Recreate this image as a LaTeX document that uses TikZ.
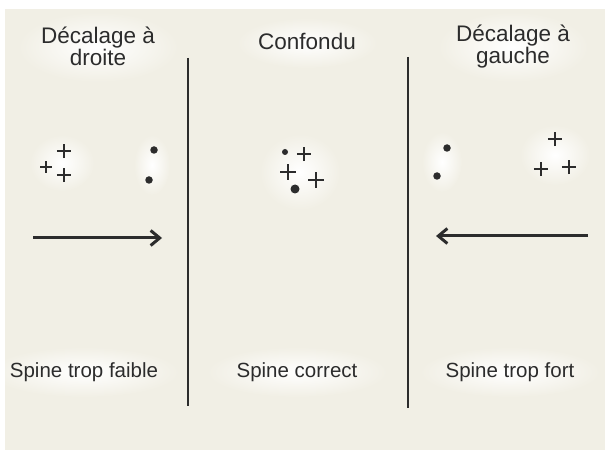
\documentclass[tikz,border=0pt]{standalone}
\usepackage{fontspec}
\setmainfont{Liberation Sans}
\usetikzlibrary{arrows,arrows.meta,shapes.misc}
\definecolor{paper}{RGB}{241,239,229}
\definecolor{ink}{RGB}{44,44,44}

\begin{document}
\begin{tikzpicture}[x=1bp,y=-1bp]
\tikzstyle{every node}=[inner sep=0pt, text=ink]
\tikzstyle{dot}=[circle, fill=ink, minimum size=7.5bp]
\tikzstyle{plus}=[cross out, rotate=45, draw=ink, line width=2.6bp, minimum size=7.5bp]
\tikzstyle{halo}=[inner color=white, outer color=paper]
\tikzstyle{heading}=[align=center, font=\fontsize{22.5bp}{22bp}\selectfont]
\tikzstyle{spinetext}=[anchor=base, font=\fontsize{20.5bp}{24bp}\selectfont]
\useasboundingbox (0,0) rectangle (609,450);
\fill[white] (0,0) rectangle (609,450);
\fill[paper] (5,9) rectangle (605,450);
% soft light patches
\begin{scope}
\clip (5,9) rectangle (605,450);
\shade[halo] (62,163) ellipse (32 and 28);
\shade[halo] (152,165) ellipse (18 and 30);
\shade[halo] (300,172) ellipse (40 and 38);
\shade[halo] (442,162) ellipse (20 and 30);
\shade[halo] (555,155) ellipse (35 and 30);
\shade[halo] (98,47) ellipse (80 and 35);
\shade[halo] (307,43) ellipse (70 and 25);
\shade[halo] (513,47) ellipse (75 and 35);
\shade[halo] (84,372) ellipse (95 and 25);
\shade[halo] (297,372) ellipse (90 and 25);
\shade[halo] (510,372) ellipse (90 and 25);
\end{scope}
% headings
\draw (98,46) node (headL) [heading] {Décalage à\\droite};
\draw (307,50) node (headC) [heading, anchor=base] {Confondu};
\draw (513,47) node (headR) [heading] {Décalage à\\gauche};
% left impacts
\draw (64,151) node (pL1) [plus] {};
\draw (64,175) node (pL2) [plus] {};
\draw (46,167) node (pL3) [plus, line width=1.6bp, minimum size=6.5bp] {};
\draw (154,150) node (dL1) [dot] {};
\draw (149,180) node (dL2) [dot] {};
% centre impacts
\draw (285,152) node (dC1) [dot, minimum size=6bp] {};
\draw (304,154) node (pC1) [plus] {};
\draw (288,172) node (pC2) [plus, minimum size=8.5bp] {};
\draw (316,180) node (pC3) [plus, minimum size=8.5bp] {};
\draw (295,189) node (dC2) [dot, minimum size=9bp] {};
% right impacts
\draw (447,148) node (dR1) [dot] {};
\draw (437,176) node (dR2) [dot] {};
\draw (555,139) node (pR1) [plus] {};
\draw (541,169) node (pR2) [plus] {};
\draw (569,167) node (pR3) [plus] {};
% arrows
\coordinate (aL0) at (33,238);
\coordinate (aL1) at (162,238);
\coordinate (aR0) at (588,236);
\coordinate (aR1) at (436,236);
\tikzstyle{shift arrow}=[-{Straight Barb[length=9bp,width=15bp]}, line width=3bp, draw=ink]
\draw[shift arrow] (aL0) -- (aL1);
\draw[shift arrow] (aR0) -- (aR1);
% dividers
\coordinate (d1t) at (188,58);
\coordinate (d1b) at (188,406);
\coordinate (d2t) at (408,57);
\coordinate (d2b) at (408,408);
\draw[line width=2.8bp, draw=ink] (d1t) -- (d1b);
\draw[line width=2.8bp, draw=ink] (d2t) -- (d2b);
% bottom labels
\draw (84,377) node (footL) [spinetext] {Spine trop faible};
\draw (297,377) node (footC) [spinetext] {Spine correct};
\draw (510,377) node (footR) [spinetext] {Spine trop fort};
\end{tikzpicture}
\end{document}
